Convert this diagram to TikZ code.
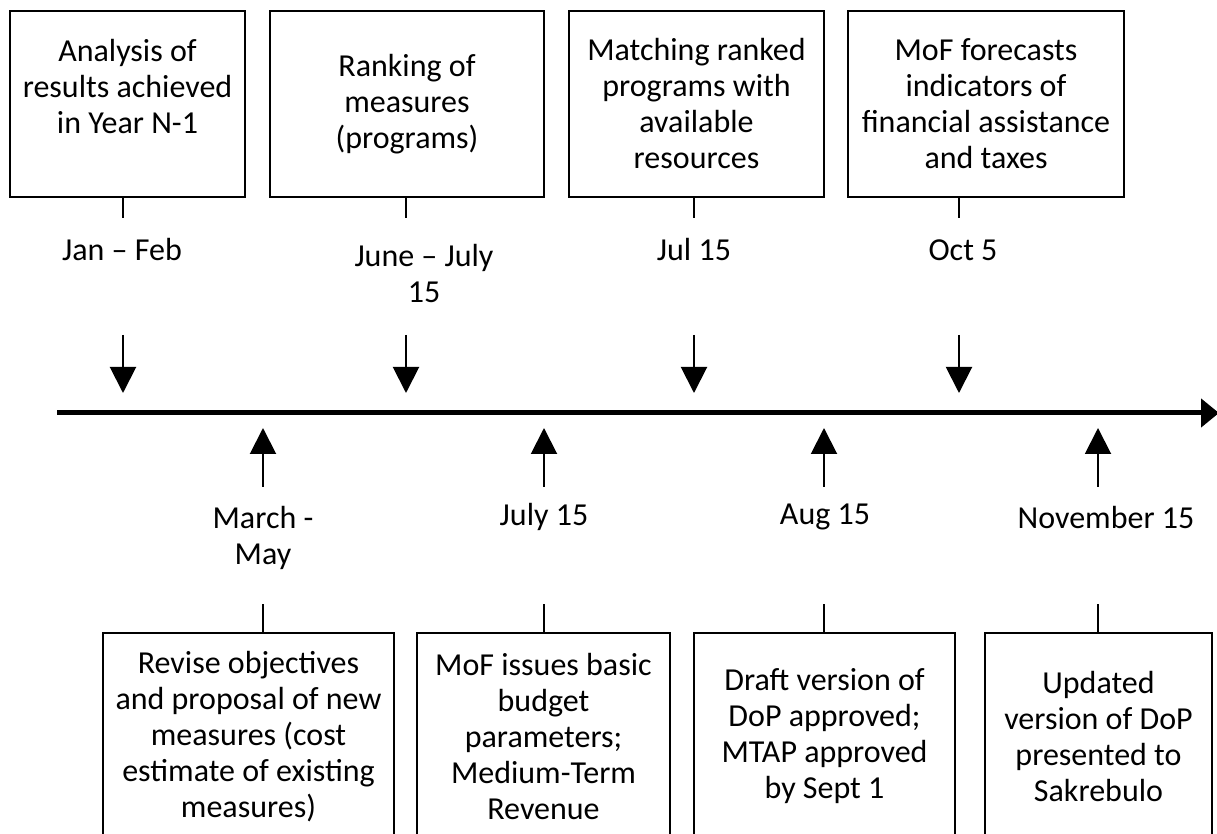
\documentclass[tikz,border=0pt]{standalone}
\usepackage{fontspec}
\setmainfont{Carlito}
\usetikzlibrary{arrows.meta, positioning}

\begin{document}
\begin{tikzpicture}[
      x=0.5pt, y=-0.5pt,
      >={Triangle[length=13pt, width=13pt]},
      event/.style={draw, line width=0.6pt, align=center, inner sep=0pt, font=\fontsize{16}{18}\selectfont},
      date/.style={align=center, inner sep=0pt, font=\fontsize{16}{18}\selectfont},
      stem/.style={line width=1pt},
      pointer/.style={->, line width=1pt},
      axis/.style={-{Triangle[length=9pt, width=14pt]}, line width=2.5pt}
    ]

    \useasboundingbox (0,0) rectangle (1217,834);
    \clip (0,0) rectangle (1217,834);

    % events above the line
    \node[event, minimum width=117.5pt, minimum height=93pt] (top1) at (127.5,104) {Analysis of\\results achieved\\in Year N-1\\~};
    \node[event, minimum width=137pt, minimum height=93pt] (top2) at (407,104) {Ranking of\\measures\\(programs)};
    \node[event, minimum width=127.5pt, minimum height=93pt] (top3) at (696.5,104) {Matching ranked\\programs with\\available\\resources};
    \node[event, minimum width=138pt, minimum height=93pt] (top4) at (986,104) {MoF forecasts\\indicators of\\financial assistance\\and taxes};

    \node[date] (jan) at (122,250) {Jan -- Feb};
    \node[date] (june) at (424,274) {June -- July\\15};
    \node[date] (jul) at (694,250) {Jul 15};
    \node[date] (oct) at (963,250) {Oct 5};

    \coordinate (s1) at (123,218);
    \coordinate (s2) at (406,218);
    \coordinate (s3) at (694,218);
    \coordinate (s4) at (959,218);
    \draw[stem] (top1.south -| s1) -- (s1);
    \draw[stem] (top2.south -| s2) -- (s2);
    \draw[stem] (top3.south -| s3) -- (s3);
    \draw[stem] (top4.south -| s4) -- (s4);

    \coordinate (d1) at (123,335); \coordinate (e1) at (123,393);
    \coordinate (d2) at (406,335); \coordinate (e2) at (406,393);
    \coordinate (d3) at (694,335); \coordinate (e3) at (694,393);
    \coordinate (d4) at (959,335); \coordinate (e4) at (959,393);
    \draw[pointer] (d1) -- (e1);
    \draw[pointer] (d2) -- (e2);
    \draw[pointer] (d3) -- (e3);
    \draw[pointer] (d4) -- (e4);

    % time line
    \coordinate (start) at (57,413);
    \coordinate (end) at (1219,413);
    \draw[axis] (start) -- (end);

    % events below the line
    \coordinate (f1) at (263,487); \coordinate (g1) at (263,428);
    \coordinate (f2) at (544,487); \coordinate (g2) at (544,428);
    \coordinate (f3) at (824,487); \coordinate (g3) at (824,428);
    \coordinate (f4) at (1098,487); \coordinate (g4) at (1098,428);
    \draw[pointer] (f1) -- (g1);
    \draw[pointer] (f2) -- (g2);
    \draw[pointer] (f3) -- (g3);
    \draw[pointer] (f4) -- (g4);

    \node[date] (march) at (263,538) {March -\\May};
    \node[date] (july) at (544,517) {July 15};
    \node[date] (aug) at (825,517) {Aug 15};
    \node[date] (nov) at (1106,518) {November 15};

    \node[event, minimum width=145.5pt, minimum height=103.5pt] (bot1) at (248.5,736.5) {Revise objectives\\and proposal of new\\measures (cost\\estimate of existing\\measures)};
    \node[event, minimum width=126.5pt, minimum height=103.5pt] (bot2) at (543.5,736.5) {MoF issues basic\\budget\\parameters;\\Medium-Term\\Revenue};
    \node[event, minimum width=130.5pt, minimum height=103.5pt] (bot3) at (824.5,736.5) {Draft version of\\DoP approved;\\MTAP approved\\by Sept 1};
    \node[event, minimum width=113.5pt, minimum height=103.5pt] (bot4) at (1098.5,736.5) {Updated\\version of DoP\\presented to\\Sakrebulo};

    \coordinate (u1) at (263,604);
    \coordinate (u2) at (544,604);
    \coordinate (u3) at (824,604);
    \coordinate (u4) at (1098,604);
    \draw[stem] (u1) -- (u1 |- bot1.north);
    \draw[stem] (u2) -- (u2 |- bot2.north);
    \draw[stem] (u3) -- (u3 |- bot3.north);
    \draw[stem] (u4) -- (u4 |- bot4.north);

  \end{tikzpicture}
\end{document}
